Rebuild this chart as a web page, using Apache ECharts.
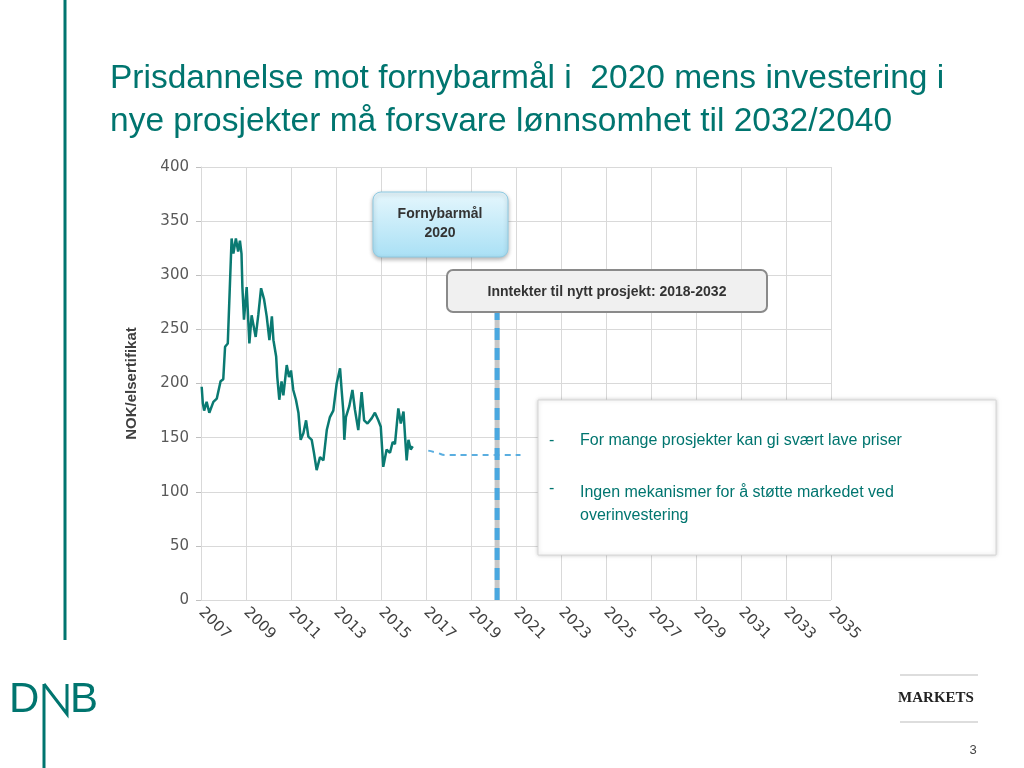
<!DOCTYPE html>
<html><head><meta charset="utf-8">
<script src="https://cdn.jsdelivr.net/npm/echarts@6/dist/echarts.min.js"></script>
<style>html,body{margin:0;padding:0;background:#fff}#c{width:1024px;height:768px}</style>
</head><body><div id="c"></div>
<script>
const histYears=[2007.03,2007.08,2007.14,2007.25,2007.37,2007.55,2007.70,2007.87,2007.99,2008.07,2008.19,2008.26,2008.36,2008.44,2008.55,2008.65,2008.73,2008.80,2008.84,2008.91,2009.03,2009.15,2009.25,2009.43,2009.55,2009.67,2009.80,2009.92,2010.04,2010.15,2010.22,2010.34,2010.39,2010.48,2010.58,2010.66,2010.81,2010.91,2011.00,2011.10,2011.22,2011.33,2011.43,2011.55,2011.67,2011.77,2011.92,2012.02,2012.14,2012.29,2012.44,2012.59,2012.73,2012.88,2013.03,2013.18,2013.25,2013.33,2013.37,2013.44,2013.59,2013.73,2013.84,2013.99,2014.14,2014.25,2014.40,2014.59,2014.73,2014.88,2014.99,2015.10,2015.25,2015.40,2015.52,2015.62,2015.77,2015.88,2016.00,2016.07,2016.14,2016.22,2016.32,2016.41];
const histValues=[197,182,175,183,173,183,186,202,204,234,237,277,334,320,334,322,332,320,289,259,289,237,263,243,264,288,278,262,240,262,240,225,206,185,202,189,217,206,212,194,185,173,148,154,166,151,148,136,120,132,129,157,169,175,200,214,194,173,148,169,179,194,176,157,192,166,163,168,173,166,160,123,139,136,146,144,177,163,174,151,129,148,139,142];
const fcYears=[2017.1,2017.5,2017.85,2019,2020,2021.2];
const fcValues=[138,136,134,134,134,134];
const targetLine=[[2020.16,0],[2020.16,268]];
const teal='#00756f';
const F='Liberation Sans, Arial';
const chart=echarts.init(document.getElementById('c'));
const g=[
  {type:'line',shape:{x1:65,y1:0,x2:65,y2:640},style:{stroke:teal,lineWidth:3}},
  {type:'text',left:110,top:57,style:{text:'Prisdannelse mot fornybarmål i  2020 mens investering i\nnye prosjekter må forsvare lønnsomhet til 2032/2040',fill:teal,fontSize:33.5,lineHeight:43,fontFamily:F}},
  {type:'rect',shape:{x:373,y:192,width:135,height:65,r:8},style:{fill:new echarts.graphic.LinearGradient(0,0,0,1,[{offset:0,color:'#e6f7fd'},{offset:1,color:'#a9e0f5'}]),stroke:'#8fcbe3',lineWidth:1,shadowBlur:4,shadowColor:'rgba(0,0,0,0.3)',shadowOffsetY:2}},
  {type:'text',x:440,y:224,style:{text:'Fornybarmål\n2020',fill:'#333',fontSize:14,fontWeight:'bold',lineHeight:19,align:'center',verticalAlign:'middle',fontFamily:F}},
  {type:'rect',shape:{x:447,y:270,width:320,height:42,r:6},style:{fill:'#f0f0f0',stroke:'#8a8a8a',lineWidth:2}},
  {type:'text',x:607,y:292,style:{text:'Inntekter til nytt prosjekt: 2018-2032',fill:'#333',fontSize:14,fontWeight:'bold',align:'center',verticalAlign:'middle',fontFamily:F}},
  {type:'rect',shape:{x:538,y:400,width:458,height:155},style:{fill:'#fff',stroke:'#d6d6d6',lineWidth:1,shadowBlur:4,shadowColor:'rgba(0,0,0,0.2)'}},
  {type:'text',left:549,top:433,style:{text:'-',fill:teal,fontSize:16,fontFamily:F}},
  {type:'text',left:580,top:433,style:{text:'For mange prosjekter kan gi svært lave priser',fill:teal,fontSize:16,fontFamily:F}},
  {type:'text',left:549,top:481,style:{text:'-',fill:teal,fontSize:16,fontFamily:F}},
  {type:'text',left:580,top:481,style:{text:'Ingen mekanismer for å støtte markedet ved\noverinvestering',fill:teal,fontSize:16,lineHeight:23,fontFamily:F}},
  {type:'text',left:9,top:679,style:{text:'D',fill:teal,fontSize:42,fontFamily:F}},
  {type:'polyline',shape:{points:[[44,684],[67,714],[67,684]]},style:{stroke:teal,lineWidth:3,fill:'none'}},
  {type:'text',left:70,top:679,style:{text:'B',fill:teal,fontSize:42,fontFamily:F}},
  {type:'line',shape:{x1:44,y1:684,x2:44,y2:768},style:{stroke:teal,lineWidth:3}},
  {type:'line',shape:{x1:900,y1:675,x2:978,y2:675},style:{stroke:'#bbb',lineWidth:1}},
  {type:'line',shape:{x1:900,y1:722,x2:978,y2:722},style:{stroke:'#bbb',lineWidth:1}},
  {type:'text',x:936,y:698,style:{text:'MARKETS',fill:'#222',fontSize:15,fontWeight:'bold',align:'center',verticalAlign:'middle',fontFamily:'Liberation Serif, serif'}},
  {type:'text',x:973,y:750,style:{text:'3',fill:'#444',fontSize:13,align:'center',verticalAlign:'middle',fontFamily:F}}
].map(e=>Object.assign(e,{z:100}));
chart.setOption({
 animation:false,
 grid:{left:201,right:193,top:167,bottom:168},
 xAxis:{type:'value',min:2007,max:2035,interval:2,
  axisLine:{show:false},axisTick:{show:false},
  splitLine:{lineStyle:{color:'#d9d9d9'}},
  axisLabel:{rotate:-45,color:'#404040',fontSize:15,fontFamily:'Verdana, DejaVu Sans',margin:10,formatter:v=>String(v)}},
 yAxis:{type:'value',min:0,max:400,interval:50,
  name:'NOK/elsertifikat',nameLocation:'middle',nameGap:62,
  nameTextStyle:{fontWeight:'bold',fontSize:15,color:'#404040',fontFamily:'Liberation Sans Narrow, Liberation Sans'},
  axisLine:{show:true,lineStyle:{color:'#d9d9d9'}},axisTick:{show:true,length:5,lineStyle:{color:'#bfbfbf'}},
  splitLine:{lineStyle:{color:'#d9d9d9'}},
  axisLabel:{color:'#595959',fontSize:15,fontFamily:'Verdana, DejaVu Sans',margin:12}},
 series:[
  {type:'line',data:histYears.map((y,i)=>[y,histValues[i]]),symbol:'none',lineStyle:{color:'#0a7a72',width:2.5}},
  {type:'line',data:fcYears.map((y,i)=>[y,fcValues[i]]),symbol:'none',smooth:true,lineStyle:{color:'#5aaee0',width:2,type:[6,5]}},
  {type:'line',data:targetLine,symbol:'none',lineStyle:{color:'#c8c8c8',width:5}},
  {type:'line',data:targetLine,symbol:'none',lineStyle:{color:'#4aa8e0',width:5,type:[12,8]}}
 ],
 graphic:g
});
</script></body></html>
